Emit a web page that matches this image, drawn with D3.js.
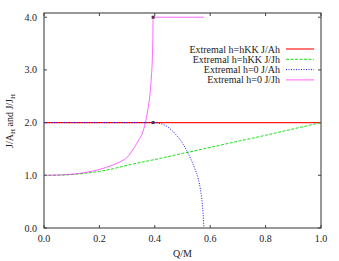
<!DOCTYPE html>
<html><head><meta charset="utf-8">
<script src="https://cdn.jsdelivr.net/npm/d3@7"></script>
<style>body{margin:0;background:#fff}svg{display:block}</style>
</head><body>
<script>
const xTicks=[0,0.2,0.4,0.6,0.8,1.0];
const yTicks=[0,1,2,3,4];
const seriesNames=["Extremal h=hKK J/Ah","Extremal h=hKK J/Jh","Extremal h=0 J/Ah","Extremal h=0 J/Jh"];
const kkAhQ=[0,1];
const kkAhV=[2,2];
const kkJhQ=[0,0.05,0.1,0.15,0.2,0.25,0.3,0.35,0.4,0.5,0.6,0.7,0.8,0.9,1.0];
const kkJhV=[1.0,1.003,1.015,1.04,1.075,1.125,1.19,1.245,1.3,1.415,1.53,1.645,1.76,1.88,2.0];
const h0AhQ=[0,0.394,0.42,0.44,0.46,0.48,0.5,0.515,0.53,0.545,0.557,0.565,0.571,0.575,0.577];
const h0AhV=[2,2,1.98,1.94,1.86,1.75,1.61,1.47,1.31,1.12,0.93,0.72,0.48,0.22,0];
const h0JhQ=[0,0.05,0.1,0.15,0.2,0.25,0.28,0.3,0.32,0.34,0.355,0.366,0.375,0.383,0.388,0.391,0.393,0.394,0.45,0.5,0.578];
const h0JhV=[1.0,1.005,1.02,1.055,1.11,1.2,1.27,1.34,1.48,1.65,1.8,2.0,2.25,2.56,2.9,3.2,3.6,4.0,4.0,4.0,4.0];
const markQ=[0.394,0.394];
const markV=[2.0,4.0];

const W=339,H=261;
const FONT="'Liberation Serif','DejaVu Serif','Times New Roman',serif";
const svg=d3.select("body").append("svg").attr("width",W).attr("height",H)
  .attr("font-family",FONT).style("font-family",FONT);
const x=d3.scaleLinear().domain([0,1]).range([44,321]);
const y=d3.scaleLinear().domain([0,4.08]).range([228,13]);
const tl=3;
const g=svg.append("g");
xTicks.forEach(t=>{
  g.append("line").attr("x1",x(t)).attr("x2",x(t)).attr("y1",228).attr("y2",228-tl).attr("stroke","#444");
  g.append("line").attr("x1",x(t)).attr("x2",x(t)).attr("y1",13).attr("y2",13+tl).attr("stroke","#444");
  g.append("text").attr("x",x(t)).attr("y",242).attr("text-anchor","middle").attr("font-size",10).attr("fill","#222").text(t.toFixed(1));
});
yTicks.forEach(t=>{
  g.append("line").attr("x1",44).attr("x2",44+tl).attr("y1",y(t)).attr("y2",y(t)).attr("stroke","#444");
  g.append("line").attr("x1",321).attr("x2",321-tl).attr("y1",y(t)).attr("y2",y(t)).attr("stroke","#444");
  g.append("text").attr("x",37).attr("y",y(t)).attr("dy","0.35em").attr("text-anchor","end").attr("font-size",10).attr("fill","#222").text(t.toFixed(1));
});
const lineS=d3.line().x(d=>x(d[0])).y(d=>y(d[1])).curve(d3.curveMonotoneX);
const zip=(a,b)=>a.map((v,i)=>[v,b[i]]);
const styles=[
  {c:"#ff0000",dash:null,w:1.2,o:0.9},
  {c:"#00e000",dash:"3,1.5",w:1,o:0.9},
  {c:"#0000ff",dash:"1,1.5",w:1,o:0.9},
  {c:"#ff00ff",dash:null,w:1,o:0.6}
];
const data=[zip(kkAhQ,kkAhV),zip(kkJhQ,kkJhV),zip(h0AhQ,h0AhV),zip(h0JhQ,h0JhV)];
svg.append("clipPath").attr("id","c").append("rect").attr("x",44).attr("y",13).attr("width",277).attr("height",215);
const pg=svg.append("g").attr("clip-path","url(#c)");
data.forEach((d,i)=>{
  pg.append("path").attr("d",lineS(d)).attr("fill","none").attr("stroke",styles[i].c)
    .attr("stroke-width",styles[i].w).attr("stroke-dasharray",styles[i].dash).attr("opacity",styles[i].o);
});
zip(markQ,markV).forEach(d=>{
  svg.append("rect").attr("x",x(d[0])-1.5).attr("y",y(d[1])-1.5).attr("width",3).attr("height",3).attr("fill","#503050");
});
svg.append("rect").attr("x",44).attr("y",13).attr("width",277).attr("height",215).attr("fill","none").attr("stroke","#333").attr("stroke-width",1);
seriesNames.forEach((n,i)=>{
  const yy=49+i*10.3;
  svg.append("text").attr("x",280).attr("y",yy).attr("dy","0.35em").attr("text-anchor","end").attr("font-size",10).attr("fill","#222").text(n);
  svg.append("line").attr("x1",286).attr("x2",314).attr("y1",yy).attr("y2",yy).attr("stroke",styles[i].c)
    .attr("stroke-width",styles[i].w).attr("stroke-dasharray",styles[i].dash).attr("opacity",styles[i].o);
});
svg.append("text").attr("x",182.5).attr("y",257).attr("text-anchor","middle").attr("font-size",10).attr("fill","#222").text("Q/M");
const yl=svg.append("text").attr("transform","translate(13,121) rotate(-90)").attr("text-anchor","middle").attr("font-size",10).attr("fill","#222");
yl.append("tspan").text("J/A");
yl.append("tspan").attr("font-size",7).attr("dy",2).text("H");
yl.append("tspan").attr("dy",-2).text(" and J/J");
yl.append("tspan").attr("font-size",7).attr("dy",2).text("H");
</script>
</body></html>
